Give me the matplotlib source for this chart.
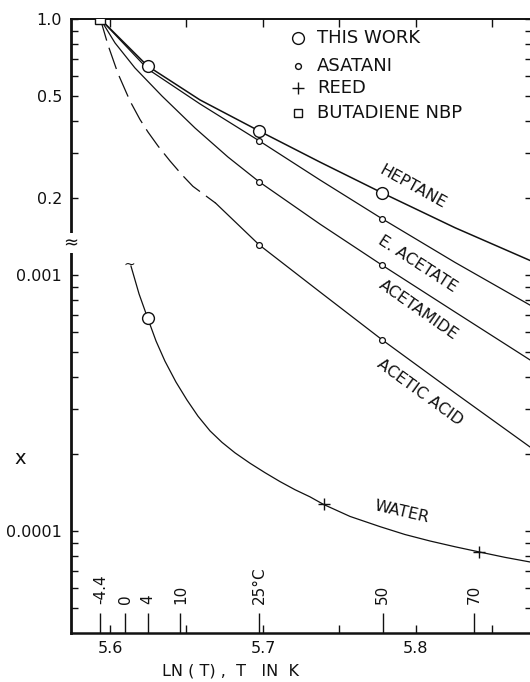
import numpy as np
import matplotlib
matplotlib.use("Agg")
import matplotlib.pyplot as plt
from matplotlib.ticker import FixedLocator, NullFormatter

plt.rcParams['font.family'] = ['DejaVu Sans']
plt.rcParams['font.size'] = 11.5

INK = '#111111'
# lower part of the y axis (water) reads 100x smaller than the upper part
WATER_SCALE = 100.0

# x is ln(T), T in K ; organic solubilities on the upper scale
heptane_x = [5.5937, 5.6246, 5.6588, 5.6976, 5.7373, 5.7781, 5.8255, 5.8745]
heptane_y = [1.0, 0.655, 0.483, 0.365, 0.276, 0.209, 0.153, 0.114]

eacetate_x = [5.5937, 5.6246, 5.6588, 5.6976, 5.7373, 5.7781, 5.8255, 5.8745]
eacetate_y = [1.0, 0.638, 0.466, 0.334, 0.235, 0.1655, 0.112, 0.0763]

acetamide_x = [5.5937, 5.6033, 5.6163, 5.6340, 5.6556, 5.6771, 5.6976, 5.7373,
               5.7781, 5.8255, 5.8745]
acetamide_y = [1.0, 0.806, 0.644, 0.500, 0.375, 0.289, 0.231, 0.158, 0.109,
               0.0717, 0.0466]

# dashed below the melting point of acetic acid
acetic_dash_x = [5.5937, 5.5987, 5.6052, 5.6131, 5.6196, 5.6248, 5.6314,
                 5.6392, 5.6471, 5.6542, 5.669]
acetic_dash_y = [1.0, 0.791, 0.6125, 0.478, 0.405, 0.362, 0.319, 0.279,
                 0.246, 0.222, 0.191]
acetic_x = [5.669, 5.6976, 5.7373, 5.7781, 5.8255, 5.8745]
acetic_y = [0.191, 0.131, 0.0858, 0.0557, 0.0346, 0.0213]

# water, lower scale
water_x = [5.6137, 5.6190, 5.6246, 5.6301, 5.6359, 5.6431, 5.6503, 5.6575,
           5.6654, 5.6732, 5.6817, 5.6915, 5.7013, 5.7111, 5.7209, 5.7307,
           5.7396, 5.7569, 5.7765, 5.7928, 5.8092, 5.8255, 5.8415, 5.8582,
           5.8745]
water_y = [1.084e-3, 8.43e-4, 6.79e-4, 5.52e-4, 4.61e-4, 3.82e-4, 3.25e-4,
           2.81e-4, 2.46e-4, 2.22e-4, 2.02e-4, 1.84e-4, 1.69e-4, 1.56e-4,
           1.45e-4, 1.36e-4, 1.27e-4, 1.14e-4, 1.04e-4, 9.69e-5, 9.14e-5,
           8.68e-5, 8.28e-5, 7.89e-5, 7.57e-5]

# data points
nbp_x = [5.5937]
nbp_y = [1.0]
this_work_x = [5.6246, 5.6976, 5.7781]
this_work_y = [0.655, 0.365, 0.209]
this_work_water_x = [5.6246]
this_work_water_y = [6.79e-4]
asatani_x = [5.6976, 5.7781, 5.6976, 5.7781, 5.6976, 5.7781]
asatani_y = [0.334, 0.1655, 0.231, 0.109, 0.131, 0.0557]
reed_x = [5.7396, 5.8415]
reed_y = [1.27e-4, 8.28e-5]

# temperature marks along the bottom, deg C
temp_c = [-4.4, 0, 4, 10, 25, 50, 70]
temp_labels = ['-4.4', '0', '4', '10', '25°C', '50', '70']

x_ticks = [5.6, 5.65, 5.7, 5.75, 5.8, 5.85]
x_ticklabels = ['5.6', '', '5.7', '', '5.8', '']
y_major_upper = [1.0, 0.5, 0.2]
y_major_water = [1e-3, 1e-4]
y_labels = ['1.0', '0.5', '0.2', '0.001', '0.0001']
y_minor_upper = [0.9, 0.8, 0.7, 0.6, 0.4, 0.3]
y_minor_water = [9e-4, 8e-4, 7e-4, 6e-4, 5e-4, 4e-4, 3e-4, 2e-4,
                 9e-5, 8e-5, 7e-5, 6e-5, 5e-5]

fig = plt.figure(figsize=(5.3, 6.82), dpi=100)
ax = fig.add_axes([71 / 530, 1 - 633 / 682, 461 / 530, 614 / 682])
ax.set_yscale('log')
ax.set_xlim(5.57451, 5.87582)
ax.set_ylim(0.003996, 1.0)

w = lambda v: np.array(v) * WATER_SCALE

ax.plot(heptane_x, heptane_y, color=INK, lw=1.1)
ax.plot(eacetate_x, eacetate_y, color=INK, lw=0.9)
ax.plot(acetamide_x, acetamide_y, color=INK, lw=0.9)
ax.plot(acetic_dash_x, acetic_dash_y, color=INK, lw=0.9, dashes=(18, 6))
ax.plot(acetic_x, acetic_y, color=INK, lw=0.9)
ax.plot(water_x, w(water_y), color=INK, lw=0.9)

mk = dict(ls='none', mfc='white', mec=INK, zorder=5)
ax.plot(this_work_x, this_work_y, marker='o', ms=8.5, mew=1.0, **mk)
ax.plot(this_work_water_x, w(this_work_water_y), marker='o', ms=8.5, mew=1.0, **mk)
ax.plot(asatani_x, asatani_y, marker='o', ms=4.2, mew=0.9, **mk)
ax.plot(reed_x, w(reed_y), marker='+', ms=9, mew=1.0, **mk)
ax.plot(nbp_x, nbp_y, marker='s', ms=7.5, mew=1.0, **mk)

# tilde at the start of the water curve
ax.text(water_x[0] - 0.0012, w(water_y)[0] * 1.01, '~', ha='center', va='center',
        fontsize=10, color=INK)

# curve names
curve_labels = [('HEPTANE', 5.798, 0.221, -29),
                ('E. ACETATE', 5.8013, 0.1104, -33),
                ('ACETAMIDE', 5.8013, 0.0731, -35),
                ('ACETIC ACID', 5.8026, 0.0349, -36),
                ('WATER', 5.7908, 0.01186, -13)]
for txt, lx, ly, rot in curve_labels:
    ax.text(lx, ly, txt, ha='center', va='center', rotation=rot,
            rotation_mode='anchor', fontsize=11.5, color=INK)

# ticks
ax.set_xticks(x_ticks)
ax.set_xticklabels(x_ticklabels)
ax.set_yticks(y_major_upper + list(w(y_major_water)))
ax.set_yticklabels(y_labels)
ax.yaxis.set_minor_locator(FixedLocator(y_minor_upper + list(w(y_minor_water))))
ax.yaxis.set_minor_formatter(NullFormatter())
ax.tick_params(axis='both', which='both', direction='in', color=INK,
               labelcolor=INK, width=1.0)
ax.tick_params(axis='x', which='major', length=5.5, top=True, pad=6)
ax.tick_params(axis='y', which='both', length=5, right=True, pad=6.5)
ax.tick_params(axis='x', which='minor', bottom=False, top=False)

for side, lw in [('left', 2.0), ('bottom', 1.8), ('top', 1.4), ('right', 1.2)]:
    ax.spines[side].set_linewidth(lw)
    ax.spines[side].set_color(INK)

# temperature ticks and labels inside the bottom of the plot
temp_x = np.log(np.array(temp_c) + 273.15)
xt = ax.get_xaxis_transform()
ax.vlines(temp_x, 0, 20 / 614, transform=xt, color=INK, lw=1.0)
for tx, lab in zip(temp_x, temp_labels):
    ax.text(tx, 29 / 614, lab, transform=xt, rotation=90, ha='center',
            va='bottom', fontsize=11, color=INK)

# axis break on the left spine
ax.text(0, (633 - 243) / 614, '≈', transform=ax.transAxes, ha='center',
        va='center', fontsize=13, color=INK, clip_on=False,
        bbox=dict(fc='white', ec='none', pad=0.5))

# legend drawn by hand
legend_rows = [('o', 8.5, 'THIS WORK', 38),
               ('o', 4.2, 'ASATANI', 66),
               ('+', 9, 'REED', 88),
               ('s', 6, 'BUTADIENE NBP', 113)]
for m, s, lab, py in legend_rows:
    yy = (633 - py) / 614
    ax.plot([(298 - 71) / 461], [yy], transform=ax.transAxes, marker=m, ms=s,
            mew=1.0, ls='none', mfc='white', mec=INK, clip_on=False)
    ax.text((317 - 71) / 461, yy, lab, transform=ax.transAxes, ha='left',
            va='center', fontsize=13, color=INK)

fig.text(20 / 530, 1 - 458 / 682, 'x', ha='center', va='center', fontsize=14,
         color=INK)
fig.text(231 / 530, 1 - 671 / 682, 'LN ( T) ,  T   IN  K', ha='center',
         va='center', fontsize=11.5, color=INK)

fig.savefig('out.png', dpi=100, facecolor='white')
